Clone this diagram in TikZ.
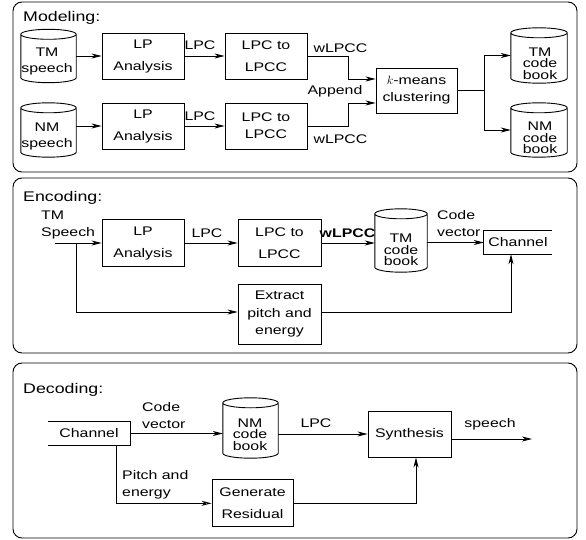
\documentclass[tikz,border=0pt]{standalone}
\usepackage{fontspec}
\setmainfont[FakeStretch=1.27]{Liberation Sans}
\usetikzlibrary{arrows.meta,calc}
\tikzset{
  wire/.style={line width=0.9pt},
  panel/.style={draw, line width=0.9pt, rounded corners=9pt, inner sep=0pt},
  head/.style={font=\fontsize{14}{16}\selectfont, inner sep=0pt, anchor=base west},
  box/.style={draw, line width=0.9pt, inner sep=0pt, align=center, font=\fontsize{12.5}{22}\selectfont},
  cylbody/.style={inner sep=0pt, minimum width=55pt},
  cyltext/.style={align=center, inner sep=0pt, font=\fontsize{12.5}{16}\selectfont},
  booktext/.style={align=center, inner sep=0pt, font=\fontsize{12.5}{11.5}\selectfont},
  lbl/.style={inner sep=0pt, font=\fontsize{12.5}{17}\selectfont},
  conn/.style={line width=0.9pt, -{Stealth[length=10pt,width=5pt,inset=3pt]}},
  oconn/.style={line width=0.9pt, -{Stealth[open,length=10pt,width=5pt,inset=3pt]}},
}
\newcommand{\drawcyl}[1]{%
  \draw[wire] let \p1=(#1.north west), \p2=(#1.south east), \n1={(\x2-\x1)/2} in
    (\p1) arc[start angle=180, end angle=0, x radius=\n1, y radius=5pt]
    -- (\x2,\y2) arc[start angle=0, end angle=-180, x radius=\n1, y radius=5pt] -- cycle
    (\p1) arc[start angle=180, end angle=360, x radius=\n1, y radius=5pt];}
\begin{document}
\begin{tikzpicture}[x=1pt,y=-1pt]
\useasboundingbox (0,0) rectangle (586,540);
% panels
\node[panel, minimum width=564pt, minimum height=170pt] (pmod) at (295,87) {};
\node[panel, minimum width=564pt, minimum height=175pt] (penc) at (295,265.5) {};
\node[panel, minimum width=564pt, minimum height=175pt] (pdec) at (295,450.5) {};

% ---------- Modeling ----------
\node[head] (hmod) at (23,21.5) {Modeling:};
\node[cylbody, minimum height=43pt] (tms) at (48.5,56) {};
\drawcyl{tms}
\node[cyltext] (tmst) at (47,61.3) {TM\\speech};
\node[cylbody, minimum height=44pt] (nms) at (48.5,130) {};
\drawcyl{nms}
\node[cyltext] (nmst) at (47,136.5) {NM\\speech};

\node[box, minimum width=82pt, minimum height=46pt] (lpa1) at (143,56) {LP\\Analysis};
\node[box, minimum width=82pt, minimum height=46pt] (lpc1) at (266,56) {LPC to\\LPCC};
\node[box, minimum width=82pt, minimum height=46pt] (lpa2) at (143,126) {LP\\Analysis};
\node[box, minimum width=82pt, minimum height=46pt, font=\fontsize{12.5}{17}\selectfont] (lpc2) at (266,126) {LPC to\\LPCC};
\node[box, minimum width=81pt, minimum height=45pt, font=\fontsize{12.5}{17}\selectfont] (km) at (416.5,90.5) {$k$-means\\clustering};

\node[cylbody, minimum width=56pt, minimum height=45pt] (tmcb) at (539,55.5) {};
\drawcyl{tmcb}
\node[booktext] (tmcbt) at (540,63.5) {TM\\code\\book};
\node[cylbody, minimum width=56pt, minimum height=44pt] (nmcb) at (539,130) {};
\drawcyl{nmcb}
\node[booktext] (nmcbt) at (540,138) {NM\\code\\book};

\node[lbl, anchor=base] (lpcl1) at (200,50) {LPC};
\node[lbl, anchor=base] (lpcl2) at (200,121) {LPC};
\node[lbl, anchor=base] (wl1) at (340.5,53) {wLPCC};
\node[lbl, anchor=base] (wl2) at (340.5,144) {wLPCC};
\node[lbl, anchor=base] (app) at (335,95) {Append};

\draw[conn] (tms.east) -- (lpa1.west);
\draw[conn] (nms.east |- lpa2.west) -- (lpa2.west);
\draw[conn] (lpa1.east) -- (lpc1.west);
\draw[conn] (lpa2.east) -- (lpc2.west);
\coordinate (mx) at (348,0);
\draw[conn] (lpc1.east) -- (lpc1.east -| mx) |- ([yshift=11.5pt]km.west);
\draw[conn] (lpc2.east) -- (lpc2.east -| mx) |- ([yshift=-12.5pt]km.west);
\coordinate (sx) at (484,0);
\draw[wire] (km.east) -- (km.east -| sx);
\draw[conn] (km.east -| sx) |- (tmcb.west);
\draw[conn] (km.east -| sx) |- (nmcb.west);

% ---------- Encoding ----------
\node[head] (henc) at (23,201) {Encoding:};
\node[lbl, align=left, anchor=west] (tmsp) at (41,225) {TM\\Speech};
\coordinate (ein) at (55,243);
\node[box, minimum width=82pt, minimum height=47pt] (elpa) at (143,243) {LP\\Analysis};
\node[box, minimum width=83pt, minimum height=47pt] (elpc) at (279.5,243) {LPC to\\LPCC};
\node[lbl, anchor=base] (elpcl) at (207,237) {LPC};
\node[lbl, anchor=base, font=\fontsize{12.5}{15}\selectfont\bfseries] (ewl) at (347.5,237) {wLPCC};
\node[cylbody, minimum width=52pt, minimum height=53pt] (etmcb) at (401,240.5) {};
\drawcyl{etmcb}
\node[booktext] (etmcbt) at (401,250) {TM\\code\\book};
\node[lbl, align=left, anchor=west] (ecv) at (437,223.5) {Code\\vector};
\node[lbl, minimum width=68pt, minimum height=23pt] (echan) at (518,242.5) {Channel};
\draw[wire] (echan.north east) -- (echan.north west) -- (echan.south west) -- (echan.south east);
\node[box, minimum width=83pt, minimum height=60pt, font=\fontsize{12.5}{17.5}\selectfont] (ext) at (279.5,314) {Extract\\pitch and\\energy};

\draw[conn] (ein) -- (elpa.west);
\draw[conn] (elpa.east) -- (elpc.west);
\draw[conn] (elpc.east) -- (elpc.east -| etmcb.west);
\draw[conn] (etmcb.east |- echan.west) -- (echan.west);
\coordinate (bx) at (76,243);
\draw[conn] (bx) |- ([yshift=2pt]ext.west);
\draw[conn] ([yshift=2pt]ext.east) -| ([xshift=-7pt]echan.south);

% ---------- Decoding ----------
\node[head] (hdec) at (23,393) {Decoding:};
\node[lbl, minimum width=82pt, minimum height=23pt] (dchan) at (89,433.5) {Channel};
\draw[wire] (dchan.north west) -- (dchan.north east) -- (dchan.south east) -- (dchan.south west);
\node[lbl, align=left, anchor=west] (dcv) at (142,415.5) {Code\\vector};
\node[cylbody, minimum height=50pt] (dnmcb) at (250.5,428) {};
\drawcyl{dnmcb}
\node[booktext] (dnmcbt) at (250,434.5) {NM\\code\\book};
\node[box, minimum width=83pt, minimum height=46pt] (syn) at (409.5,434) {Synthesis};
\node[lbl, anchor=base] (dlpc) at (316,427) {LPC};
\node[lbl, anchor=base] (dsp) at (490,427) {speech};
\coordinate (dout) at (532,439);
\node[box, minimum width=81pt, minimum height=47pt] (gen) at (252.5,503.3) {Generate\\Residual};
\node[lbl, align=left, anchor=west] (dpe) at (122,485) {Pitch and\\energy};

\draw[conn] (dchan.east) -- (dchan.east -| dnmcb.west);
\draw[conn] (dnmcb.east |- syn.west) -- (syn.west);
\draw[conn] (syn.east |- dout) -- (dout);
\coordinate (dbx) at (116,0);
\draw[oconn] (dchan.south -| dbx) |- (gen.west);
\draw[conn] (gen.east) -| ([xshift=6.5pt]syn.south);
\end{tikzpicture}
\end{document}
